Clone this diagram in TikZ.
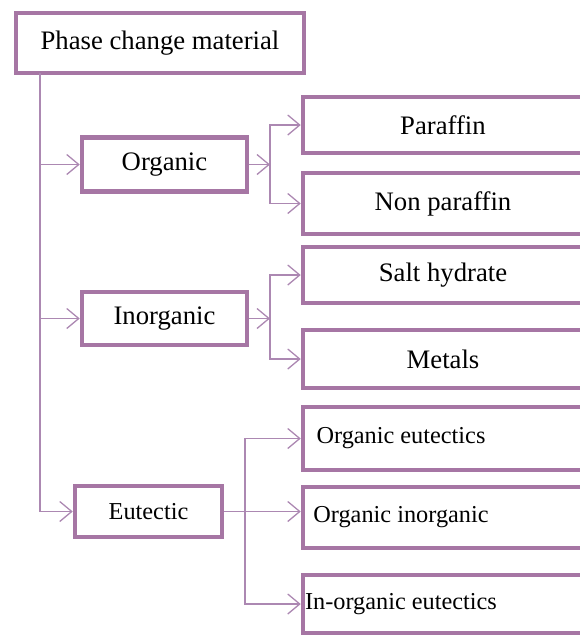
\documentclass[tikz,border=0pt]{standalone}
\usepackage{fontspec}
\setmainfont{Liberation Serif}
\usepackage{tikz}
\usetikzlibrary{arrows.meta}
\definecolor{pcmmauve}{RGB}{166,118,164}
\definecolor{pcmlilac}{RGB}{172,136,178}

\begin{document}
\begin{tikzpicture}[
    x=1pt, y=-1pt,
    every node/.style={font=\fontsize{26.7}{31}\selectfont, align=center, text=black},
    smalltext/.style={font=\fontsize{24.3}{29}\selectfont},
    pcmbox/.style={rectangle, draw=pcmmauve, fill=white, line width=3.5pt, minimum width=288pt, minimum height=60pt, inner sep=0pt},
    classbox/.style={rectangle, draw=pcmmauve, fill=white, line width=4.5pt, minimum width=165pt, minimum height=54pt, inner sep=0pt},
    leafbox/.style={rectangle, draw=pcmmauve, fill=white, line width=4.5pt, minimum width=280pt, inner sep=0pt},
    arr/.style={-{Straight Barb[length=12pt, width=20pt]}, line width=1.3pt, draw=pcmlilac}
]
\useasboundingbox (0,0) rectangle (579,635);

\node[pcmbox] (pcm) at (160,43) {Phase change material};

\node[classbox] (org) at (164.5,164.5) {Organic};
\node[classbox, minimum height=53pt] (inorg) at (164.5,318.5) {Inorganic};
\node[classbox, smalltext, minimum width=147pt, minimum height=51pt] (eut) at (148.5,511.5) {Eutectic};

\node[leafbox, minimum height=56pt] (par) at (443,125) {Paraffin};
\node[leafbox, minimum height=61pt] (nonpar) at (443,203.5) {Non paraffin};
\node[leafbox, minimum height=56pt] (salt) at (443,275) {Salt hydrate};
\node[leafbox, minimum height=58pt] (metal) at (443,359) {Metals};
\node[leafbox, smalltext, minimum height=63pt] (orgeut) at (443,438.5) {\makebox[196pt]{Organic eutectics}\hspace*{84pt}};
\node[leafbox, smalltext, minimum height=61pt] (orginorg) at (443,517.5) {\makebox[196pt]{Organic inorganic}\hspace*{84pt}};
\node[leafbox, smalltext, minimum height=58pt] (inorgeut) at (443,604) {\makebox[196pt]{In-organic eutectics}\hspace*{84pt}};

% trunk and branch points
\coordinate (trunk) at (40,73);
\coordinate (orgbr) at (270,164.5);
\coordinate (inorgbr) at (270,318.5);
\coordinate (eutbr) at (245,511.5);

\draw[arr] (trunk) |- (org.west);
\draw[arr] (trunk) |- (inorg.west);
\draw[arr] (trunk) |- (eut.west);

\draw[arr] (org.east) -- (orgbr);
\draw[arr] (orgbr) |- (par.west);
\draw[arr] (orgbr) |- (nonpar.west);

\draw[arr] (inorg.east) -- (inorgbr);
\draw[arr] (inorgbr) |- (salt.west);
\draw[arr] (inorgbr) |- (metal.west);

\draw[arr] (eut.east) -- (eut.east -| orginorg.west);
\draw[arr] (eutbr) |- (orgeut.west);
\draw[arr] (eutbr) |- (inorgeut.west);

\end{tikzpicture}
\end{document}
